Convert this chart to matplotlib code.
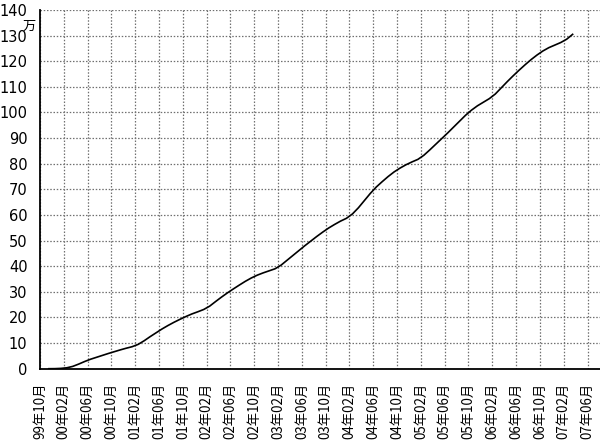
import matplotlib
matplotlib.use("Agg")
import matplotlib.pyplot as plt
import numpy as np

plt.rcParams['font.family'] = ['Noto Sans CJK JP', 'DejaVu Sans']

# month offsets from 1999-10 of the monthly observations (plotted at mid-month)
months = list(range(1, 90))
values = [0.0, 0.02, 0.12, 0.35, 0.9, 1.8, 2.8, 3.7, 4.45, 5.2,
          5.95, 6.65, 7.35, 8.0, 8.6, 9.5, 10.9, 12.5, 14.0, 15.5,
          16.85, 18.1, 19.25, 20.35, 21.35, 22.2, 23.1, 24.4, 26.2, 27.95,
          29.6, 31.15, 32.65, 34.1, 35.4, 36.5, 37.4, 38.2, 39.0, 40.4,
          42.3, 44.2, 46.1, 48.0, 49.8, 51.6, 53.3, 54.9, 56.3, 57.6,
          58.7, 60.4, 62.8, 65.6, 68.4, 70.9, 73.0, 75.0, 76.8, 78.3,
          79.6, 80.7, 81.7, 83.3, 85.4, 87.6, 89.8, 92.0, 94.3, 96.6,
          98.9, 100.9, 102.6, 104.0, 105.4, 107.2, 109.6, 112.0, 114.3, 116.5,
          118.6, 120.6, 122.4, 124.0, 125.3, 126.3, 127.3, 128.6, 130.5]

tick_months = list(range(0, 93, 4))
tick_labels = ["99年10月", "00年02月", "00年06月", "00年10月", "01年02月", "01年06月",
               "01年10月", "02年02月", "02年06月", "02年10月", "03年02月", "03年06月",
               "03年10月", "04年02月", "04年06月", "04年10月", "05年02月", "05年06月",
               "05年10月", "06年02月", "06年06月", "06年10月", "07年02月", "07年06月"]
y_ticks = list(range(0, 141, 10))
unit_label = "万"

fig = plt.figure(figsize=(6.0, 4.48), dpi=100)
ax = fig.add_axes([40/600, 79.3/448, 560/600, 358.7/448])

x = np.array(months) + 0.5
ax.plot(x, values, color='black', lw=1.2, solid_joinstyle='round')

ax.set_xlim(0, 94.1)
ax.set_ylim(0, 140)
ax.set_xticks(tick_months)
ax.set_xticklabels(tick_labels, rotation=90, fontsize=9.6)
ax.set_yticks(y_ticks)
ax.set_yticklabels([str(v) for v in y_ticks], fontsize=10.5, family='DejaVu Sans')
ax.tick_params(axis='both', length=0)
ax.tick_params(axis='x', pad=10)
ax.tick_params(axis='y', pad=9)

ax.grid(True, color='#707070', linestyle=(0, (1.2, 1.4)), lw=0.9)
ax.set_axisbelow(True)
for s in ['top', 'right']:
    ax.spines[s].set_visible(False)
for s in ['left', 'bottom']:
    ax.spines[s].set_color('black')
    ax.spines[s].set_linewidth(1.3)

fig.text(29/600, 1 - 26/448, unit_label, fontsize=9.5, ha='center', va='center')

fig.savefig("out.png", dpi=100)
